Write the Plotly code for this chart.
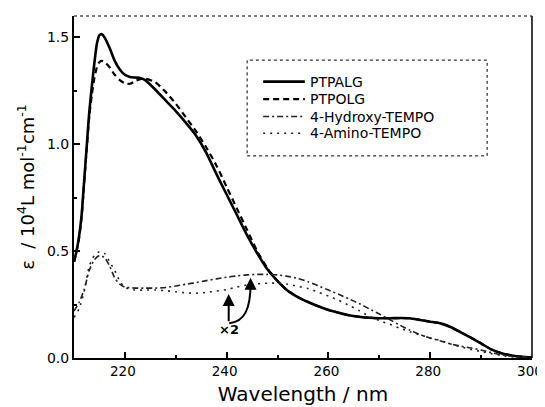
import plotly.graph_objects as go

# ---------------- data ----------------
wl_ptpalg = [210, 210.5, 211, 211.5, 212, 212.5, 213, 213.5, 214, 214.5, 215, 215.5, 216, 217, 218, 219,
             220, 221, 222, 223, 224, 226, 228, 230, 232, 234, 236, 238, 240, 242, 244, 246, 248, 250,
             252, 254, 256, 258, 260, 262, 264, 266, 268, 270, 272, 274, 276, 278, 280, 282, 284, 286,
             288, 290, 292, 294, 296, 298, 300]
eps_ptpalg = [0.45, 0.50, 0.57, 0.67, 0.83, 0.99, 1.15, 1.27, 1.38, 1.47, 1.51, 1.515, 1.50, 1.45, 1.39, 1.35,
              1.325, 1.315, 1.312, 1.31, 1.30, 1.255, 1.205, 1.155, 1.10, 1.04, 0.96, 0.86, 0.765, 0.67,
              0.575, 0.49, 0.415, 0.36, 0.315, 0.285, 0.262, 0.242, 0.225, 0.212, 0.200, 0.193, 0.188,
              0.186, 0.186, 0.187, 0.186, 0.178, 0.170, 0.162, 0.145, 0.120, 0.095, 0.068, 0.040, 0.022,
              0.012, 0.006, 0.003]

wl_ptpolg = wl_ptpalg
eps_ptpolg = [0.45, 0.50, 0.56, 0.66, 0.82, 0.98, 1.13, 1.23, 1.31, 1.36, 1.385, 1.39, 1.385, 1.36, 1.325, 1.30,
              1.285, 1.283, 1.295, 1.305, 1.307, 1.29, 1.245, 1.19, 1.125, 1.06, 0.985, 0.90, 0.80, 0.70,
              0.60, 0.50, 0.42, 0.36, 0.315, 0.285, 0.262, 0.242, 0.225, 0.212, 0.200, 0.193, 0.188,
              0.186, 0.186, 0.187, 0.186, 0.178, 0.170, 0.162, 0.145, 0.120, 0.095, 0.068, 0.040, 0.022,
              0.012, 0.006, 0.003]

wl_tempo = [210, 211, 212, 213, 214, 215, 216, 217, 218, 219, 220, 222, 224, 226, 228, 230, 232, 234, 236,
            238, 240, 242, 244, 246, 248, 250, 252, 254, 256, 258, 260, 262, 264, 266, 268, 270, 272, 274,
            276, 278, 280, 282, 284, 286, 288, 290, 292, 294, 296, 298, 300]
eps_hydroxy = [0.22, 0.26, 0.32, 0.41, 0.46, 0.48, 0.47, 0.43, 0.375, 0.345, 0.332, 0.327, 0.327, 0.327, 0.33,
               0.337, 0.345, 0.353, 0.362, 0.37, 0.378, 0.384, 0.389, 0.391, 0.391, 0.389, 0.382, 0.372,
               0.357, 0.338, 0.318, 0.298, 0.277, 0.255, 0.23, 0.206, 0.18, 0.154, 0.13, 0.11, 0.093, 0.08,
               0.066, 0.055, 0.047, 0.037, 0.025, 0.015, 0.008, 0.004, 0.002]
eps_amino = [0.19, 0.23, 0.31, 0.43, 0.48, 0.497, 0.49, 0.45, 0.41, 0.36, 0.33, 0.318, 0.318, 0.318, 0.315,
             0.31, 0.305, 0.303, 0.307, 0.313, 0.32, 0.332, 0.342, 0.347, 0.35, 0.35, 0.345, 0.335, 0.325,
             0.308, 0.29, 0.27, 0.247, 0.222, 0.196, 0.175, 0.158, 0.14, 0.123, 0.108, 0.094, 0.082, 0.066,
             0.052, 0.04, 0.03, 0.02, 0.012, 0.006, 0.003, 0.001]

series_names = ["PTPALG", "PTPOLG", "4-Hydroxy-TEMPO", "4-Amino-TEMPO"]
x_ticks = [220, 240, 260, 280, 300]
y_ticks = [0.0, 0.5, 1.0, 1.5]

FONT = "DejaVu Sans, Arial, sans-serif"

styles = [
    dict(color="black", width=2.6),
    dict(color="black", width=2.2, dash="6px,4px"),
    dict(color="#222", width=1.6, dash="6px,3px,2px,3px"),
    dict(color="#222", width=1.6, dash="2px,5px"),
]
xs = [wl_ptpalg, wl_ptpolg, wl_tempo, wl_tempo]
ys = [eps_ptpalg, eps_ptpolg, eps_hydroxy, eps_amino]

fig = go.Figure()
for name, x, y, st in zip(series_names, xs, ys, styles):
    fig.add_trace(go.Scatter(x=x, y=y, mode="lines", name=name, showlegend=False,
                             line=dict(shape="spline", smoothing=0.6, **st)))

# legend (drawn manually so the row spacing matches)
leg_rows = [0.808, 0.757, 0.706, 0.657]
for name, st, ry in zip(series_names, styles, leg_rows):
    fig.add_shape(type="line", xref="paper", yref="paper", x0=0.413, x1=0.504, y0=ry, y1=ry,
                  line=st)
    fig.add_annotation(x=0.511, y=ry, xref="paper", yref="paper", text=name, showarrow=False,
                       xanchor="left", yanchor="middle", font=dict(size=14, family=FONT, color="black"))
fig.add_shape(type="rect", xref="paper", yref="paper", x0=0.378, x1=0.902, y0=0.591, y1=0.871,
              line=dict(color="black", width=1, dash="dot"))

# arrows and x2 label
fig.add_annotation(x=240.4, y=0.30, ax=240.4, ay=0.165, xref="x", yref="y", axref="x", ayref="y",
                   text="", showarrow=True, arrowhead=2, arrowsize=1.2, arrowwidth=2, arrowcolor="black")
fig.add_shape(type="path", xref="x", yref="y",
              path="M240.5,0.163 C243.5,0.168 244.7,0.23 244.7,0.35",
              line=dict(color="black", width=2))
fig.add_annotation(x=244.7, y=0.375, ax=244.7, ay=0.34, xref="x", yref="y", axref="x", ayref="y",
                   text="", showarrow=True, arrowhead=2, arrowsize=1.2, arrowwidth=2, arrowcolor="black")
fig.add_annotation(x=240.5, y=0.132, xref="x", yref="y", text="<b>×2</b>", showarrow=False,
                   font=dict(size=13, color="black", family=FONT))

# frame: top dotted, right solid
fig.add_shape(type="line", xref="paper", yref="paper", x0=0, x1=1, y0=1, y1=1,
              line=dict(color="black", width=1, dash="dot"))
fig.add_shape(type="line", xref="paper", yref="paper", x0=1, x1=1, y0=0, y1=1,
              line=dict(color="black", width=1.5))

# the page's body has an 8px margin, so the figure is 8px smaller and margins compensate
fig.update_layout(
    width=537, height=399, autosize=False,
    margin=dict(l=66, r=13, t=8, b=49),
    paper_bgcolor="white", plot_bgcolor="white",
    font=dict(family=FONT, color="black"),
    showlegend=False,
    xaxis=dict(range=[210, 300], tickvals=x_ticks, ticks="inside", ticklen=6, tickwidth=1.5,
               tickcolor="black", showline=True, linewidth=2, linecolor="black", mirror=False,
               showgrid=False, zeroline=False, tickfont=dict(size=13.5), automargin=False,
               ticklabeloverflow="allow", ticklabelshift=-2,
               minor=dict(dtick=10, tick0=210, ticks="inside", ticklen=3, tickcolor="black"),
               title=dict(text="Wavelength / nm", font=dict(size=20), standoff=9)),
    yaxis=dict(range=[0, 1.6], tickvals=y_ticks, tickformat=".1f", ticks="inside", ticklen=6,
               tickwidth=1.5, tickcolor="black", showline=True, linewidth=2, linecolor="black",
               mirror=False, showgrid=False, zeroline=False, tickfont=dict(size=14), automargin=False,
               minor=dict(dtick=0.25, tick0=0, ticks="inside", ticklen=3, tickcolor="black"),
               title=dict(text="ε  / 10<sup>4</sup>L mol<sup>-1</sup>cm<sup>-1</sup>",
                          font=dict(size=18), standoff=8)),
)

fig.write_html("out.html")
